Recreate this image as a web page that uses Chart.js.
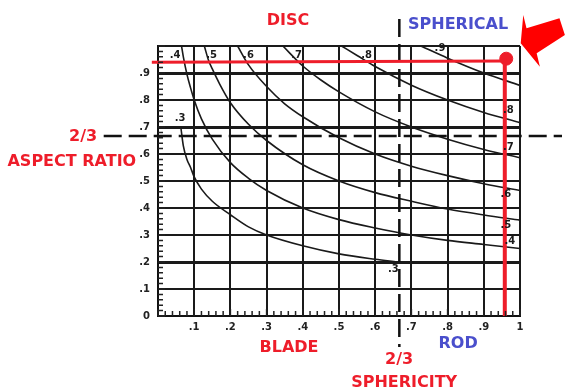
<!DOCTYPE html>
<html lang="en">
<head>
    <meta charset="UTF-8">
    <title>Sphericity chart</title>
    <script src="https://cdn.jsdelivr.net/npm/chart.js"></script>
    <style>
        body { margin: 0; background: white; }
        #wrap { width: 566px; height: 391px; position: relative; }
    </style>
</head>
<body>
    <div id="wrap"><canvas id="chart"></canvas></div>

    <script>
        // tick labels
        const xTickLabels = ['', '.1', '.2', '.3', '.4', '.5', '.6', '.7', '.8', '.9', '1'];
        const yTickLabels = ['0', '.1', '.2', '.3', '.4', '.5', '.6', '.7', '.8', '.9', ''];

        // sphericity curves
        const c30x = [0.063, 0.07, 0.08, 0.09, 0.1, 0.12, 0.15, 0.2, 0.25, 0.3, 0.4, 0.5, 0.6, 0.66];
        const c30y = [0.70, 0.63, 0.58, 0.55, 0.515, 0.47, 0.425, 0.375, 0.33, 0.30, 0.26, 0.23, 0.21, 0.20];
        const c40x = [0.065, 0.07, 0.08, 0.09, 0.1, 0.12, 0.15, 0.2, 0.25, 0.3, 0.4, 0.5, 0.6, 0.7, 0.8, 0.9, 1.0];
        const c40y = [1.0, 0.96, 0.895, 0.845, 0.80, 0.73, 0.655, 0.568, 0.51, 0.465, 0.40, 0.357, 0.326, 0.30, 0.28, 0.265, 0.25];
        const c50x = [0.128, 0.14, 0.15, 0.17, 0.2, 0.25, 0.3, 0.4, 0.5, 0.6, 0.7, 0.8, 0.9, 1.0];
        const c50y = [1.0, 0.945, 0.915, 0.86, 0.79, 0.71, 0.65, 0.56, 0.50, 0.457, 0.425, 0.396, 0.374, 0.355];
        const c60x = [0.22, 0.25, 0.3, 0.35, 0.4, 0.5, 0.6, 0.7, 0.8, 0.9, 1.0];
        const c60y = [1.0, 0.93, 0.85, 0.786, 0.738, 0.66, 0.60, 0.555, 0.52, 0.49, 0.465];
        const c70x = [0.345, 0.4, 0.45, 0.5, 0.6, 0.7, 0.8, 0.9, 1.0];
        const c70y = [1.0, 0.926, 0.874, 0.83, 0.756, 0.70, 0.655, 0.617, 0.586];
        const c80x = [0.507, 0.55, 0.6, 0.7, 0.8, 0.9, 1.0];
        const c80y = [1.0, 0.965, 0.924, 0.855, 0.80, 0.754, 0.716];
        const c90x = [0.726, 0.8, 0.9, 1.0];
        const c90y = [1.0, 0.955, 0.90, 0.854];

        // curve labels
        const curveLabels = ['.3', '.4', '.5', '.6', '.7', '.8', '.9',
                             '.3', '.4', '.5', '.6', '.7', '.8'];
        const curveLabelX = [0.061, 0.047, 0.148, 0.25, 0.383, 0.576, 0.779,
                             0.65, 0.972, 0.961, 0.961, 0.968, 0.968];
        const curveLabelY = [0.73, 0.967, 0.967, 0.967, 0.967, 0.967, 0.99,
                             0.173, 0.275, 0.337, 0.452, 0.625, 0.76];

        // the marked sample
        const pointX = [0.962];
        const pointY = [0.953];
        const cutoff = 2 / 3;

        const pts = (xs, ys) => xs.map((x, i) => ({ x: x, y: ys[i] }));
        const RED = '#ee1d2a';
        const BLUE = '#4a4fcc';

        const curve = (xs, ys) => ({
            data: pts(xs, ys),
            borderColor: '#1a1a1a',
            borderWidth: 1.6,
            pointRadius: 0,
            cubicInterpolationMode: 'monotone',
            order: 3
        });

        const notes = [
            { t: 'DISC', x: 0.359, y: 1.093, c: RED },
            { t: 'SPHERICAL', x: 0.829, y: 1.078, c: BLUE },
            { t: '2/3', x: -0.207, y: 0.663, c: RED },
            { t: 'ASPECT RATIO', x: -0.238, y: 0.570, c: RED },
            { t: 'BLADE', x: 0.362, y: -0.119, c: RED },
            { t: 'ROD', x: 0.829, y: -0.104, c: BLUE },
            { t: '2/3', x: 0.666, y: -0.163, c: RED },
            { t: 'SPHERICITY', x: 0.68, y: -0.248, c: RED }
        ];
        const arrow = [[1.002, 1.01], [1.009, 1.115], [1.018, 1.066], [1.109, 1.103],
                       [1.124, 1.041], [1.046, 0.973], [1.055, 0.923]];

        const extras = {
            id: 'extras',
            afterDatasetsDraw(chart) {
                const { ctx, scales: { x, y }, chartArea: a } = chart;
                ctx.save();
                // minor ticks inside the axes
                ctx.strokeStyle = '#222';
                ctx.lineWidth = 1.5;
                for (let i = 0; i <= 50; i++) {
                    const py = y.getPixelForValue(i / 50);
                    const px = x.getPixelForValue(i / 50);
                    const len = i % 5 === 0 ? 7 : 5;
                    ctx.beginPath();
                    ctx.moveTo(a.left, py); ctx.lineTo(a.left + len, py);
                    ctx.moveTo(px, a.bottom); ctx.lineTo(px, a.bottom - len);
                    ctx.stroke();
                }
                // curve labels
                ctx.fillStyle = '#1a1a1a';
                ctx.font = 'bold 10px "DejaVu Sans"';
                ctx.textAlign = 'center';
                ctx.textBaseline = 'middle';
                curveLabels.forEach((t, i) => {
                    ctx.fillText(t, x.getPixelForValue(curveLabelX[i]), y.getPixelForValue(curveLabelY[i]));
                });
                ctx.restore();
            },
            afterDraw(chart) {
                const { ctx, scales: { x, y } } = chart;
                ctx.save();
                ctx.font = 'bold 16px "DejaVu Sans"';
                ctx.textAlign = 'center';
                ctx.textBaseline = 'middle';
                notes.forEach(n => {
                    ctx.fillStyle = n.c;
                    ctx.fillText(n.t, x.getPixelForValue(n.x), y.getPixelForValue(n.y));
                });
                ctx.fillStyle = '#ff0000';
                ctx.beginPath();
                arrow.forEach((p, i) => {
                    const px = x.getPixelForValue(p[0]), py = y.getPixelForValue(p[1]);
                    if (i === 0) ctx.moveTo(px, py); else ctx.lineTo(px, py);
                });
                ctx.closePath();
                ctx.fill();
                ctx.restore();
            }
        };

        new Chart(document.getElementById('chart'), {
            type: 'line',
            data: {
                datasets: [
                    // red marker lines
                    {
                        data: [{ x: -0.017, y: 0.94 }, { x: pointX[0], y: 0.944 }],
                        borderColor: RED, borderWidth: 3, pointRadius: 0, clip: false, order: 0
                    },
                    {
                        data: [{ x: 0.958, y: pointY[0] }, { x: 0.958, y: 0 }],
                        borderColor: RED, borderWidth: 4, pointRadius: 0, clip: false, order: 0
                    },
                    {
                        data: pts(pointX, pointY),
                        showLine: false, pointRadius: 6.5, pointBackgroundColor: RED,
                        pointBorderColor: RED, clip: false, order: 0
                    },
                    // 2/3 cut-off lines
                    {
                        data: [{ x: -0.15, y: cutoff }, { x: 1.116, y: cutoff }],
                        borderColor: '#111', borderWidth: 2.5, borderDash: [18, 7],
                        pointRadius: 0, clip: false, order: 1
                    },
                    {
                        data: [{ x: cutoff, y: 1.10 }, { x: cutoff, y: -0.115 }],
                        borderColor: '#111', borderWidth: 2.5, borderDash: [18, 7],
                        pointRadius: 0, clip: false, order: 1
                    },
                    curve(c30x, c30y), curve(c40x, c40y), curve(c50x, c50y), curve(c60x, c60y),
                    curve(c70x, c70y), curve(c80x, c80y), curve(c90x, c90y)
                ]
            },
            options: {
                responsive: true,
                maintainAspectRatio: false,
                animation: false,
                layout: { padding: { top: 46, right: 46, left: 0, bottom: 0 } },
                plugins: { legend: { display: false }, tooltip: { enabled: false } },
                scales: {
                    x: {
                        type: 'linear', min: 0, max: 1,
                        afterFit: s => { s.height = 75; },
                        border: { color: '#111', width: 2 },
                        grid: { color: '#1a1a1a', lineWidth: 2, drawTicks: false },
                        ticks: {
                            stepSize: 0.1, padding: 5, color: '#222',
                            font: { family: 'DejaVu Sans', weight: 'bold', size: 10 },
                            callback: (v, i) => xTickLabels[i]
                        }
                    },
                    y: {
                        type: 'linear', min: 0, max: 1,
                        afterFit: s => { s.width = 158; },
                        border: { color: '#111', width: 2 },
                        grid: {
                            color: '#1a1a1a', drawTicks: false,
                            lineWidth: c => [2, 7, 9].includes(c.index) ? 3 : 2
                        },
                        ticks: {
                            stepSize: 0.1, padding: 8, color: '#222',
                            font: { family: 'DejaVu Sans', weight: 'bold', size: 10 },
                            callback: (v, i) => yTickLabels[i]
                        }
                    }
                }
            },
            plugins: [extras]
        });
    </script>
</body>
</html>
